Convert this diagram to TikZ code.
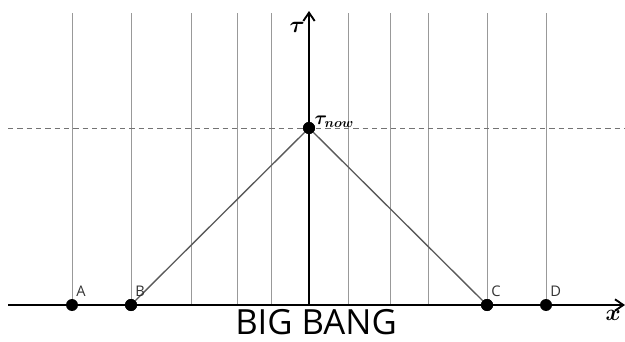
\documentclass[tikz,border=0pt]{standalone}
\usepackage{amsmath,bm}
\usepackage{fontspec}
\newfontfamily\bangfont{Open Sans}
\usetikzlibrary{arrows.meta,positioning}
\tikzset{
  worldline/.style={draw=black!40, line width=0.7pt},
  axis/.style={draw=black, line width=1.4pt, -{Straight Barb[length=2.2mm,width=3mm]}},
  lightcone/.style={draw=black!65, line width=1pt},
  nowline/.style={draw=black!55, dashed, dash pattern=on 4pt off 3pt, line width=0.6pt},
  dot/.style={circle, fill=black, inner sep=0pt, minimum size=9pt},
  ptlabel/.style={font=\bangfont\fontsize{11pt}{12pt}\selectfont, text=black!80, inner sep=0pt},
  mathlabel/.style={inner sep=1pt, font=\fontsize{17pt}{19pt}\selectfont},
}
\begin{document}
\begin{tikzpicture}[x=0.75pt, y=-0.75pt]
    \useasboundingbox (0,0) rectangle (625,342);
    % comoving world lines
    \foreach \xx in {72,131,191,237,271,348,390,428,487,546}
      \draw[worldline] (\xx,305) -- (\xx,13);
    % axes and now line
    \coordinate (xl) at (8,305);
    \coordinate (xr) at (625,305);
    \coordinate (o) at (309,305);
    \coordinate (top) at (309,11);
    \coordinate (nl) at (8,128);
    \coordinate (nr) at (625,128);
    \draw[nowline] (nl) -- (nr);
    \draw[axis] (xl) -- (xr);
    \draw[axis] (o) -- (top);
    % events
    \node[dot] (now) at (309,128) {};
    \node[dot] (A) at (72,305) {};
    \node[dot] (B) at (131,305) {};
    \node[dot] (C) at (487,305) {};
    \node[dot] (D) at (546,305) {};
    \draw[lightcone] (B.center) -- (now.center) -- (C.center);
    \node[dot] at (now) {};
    \node[dot] at (B) {};
    \node[dot] at (C) {};
    % labels
    \node[ptlabel, above right=6pt and 0pt of A.center, xshift=3pt] {A};
    \node[ptlabel, above right=6pt and 0pt of B.center, xshift=3pt] {B};
    \node[ptlabel, above right=6pt and 0pt of C.center, xshift=3pt] {C};
    \node[ptlabel, above right=6pt and 0pt of D.center, xshift=3pt] {D};
    \node[mathlabel, above right=-1pt and 3pt of now.center, font=\fontsize{14pt}{16pt}\selectfont] {$\bm{\tau_{now}}$};
    \node[mathlabel, left=2pt of top, yshift=-12pt] {$\bm{\tau}$};
    \node[mathlabel, below left=3pt and 2pt of xr] {$\bm{x}$};
    \node[anchor=base, inner sep=0pt, text depth=0pt, font=\bangfont\fontsize{26pt}{28pt}\selectfont] (bang) at (316,334) {BIG BANG};
  \end{tikzpicture}
\end{document}
